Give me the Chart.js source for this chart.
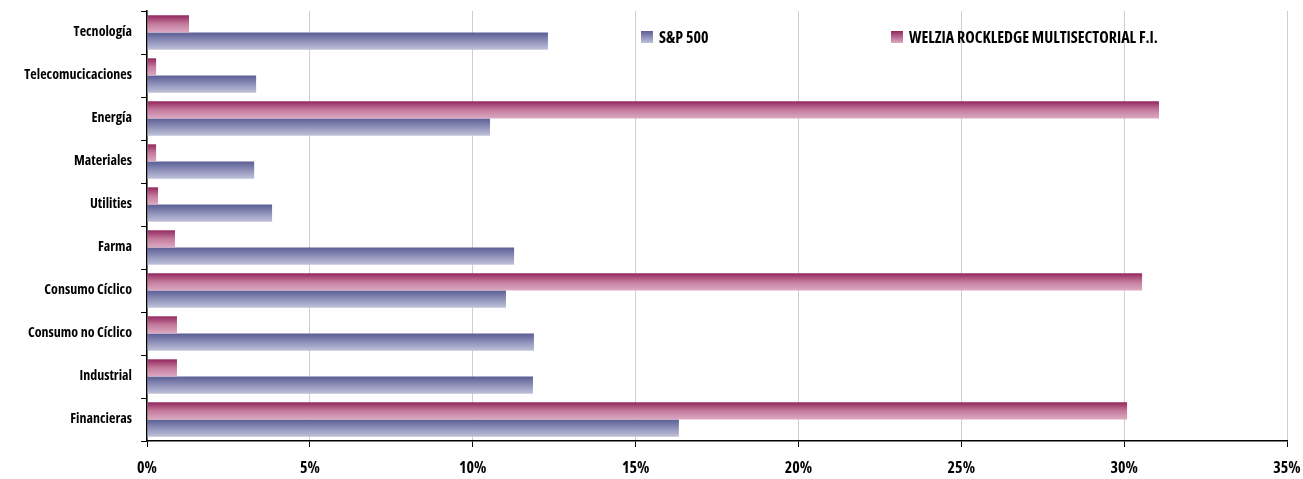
<!DOCTYPE html>
<html>
<head>
<meta charset="utf-8">
<script src="https://cdn.jsdelivr.net/npm/chart.js@4/dist/chart.umd.min.js"></script>
<style>
html,body{margin:0;padding:0;background:#fff;}
#wrap{width:1303px;height:479px;position:relative;}
</style>
</head>
<body>
<div id="wrap"><canvas id="c" width="1303" height="479"></canvas></div>
<script>
const categories = ["Tecnología","Telecomucicaciones","Energía","Materiales","Utilities","Farma","Consumo Cíclico","Consumo no Cíclico","Industrial","Financieras"];
const seriesNames = ["WELZIA ROCKLEDGE MULTISECTORIAL F.I.","S&P 500"];
const welziaValues = [1.29, 0.28, 31.07, 0.28, 0.34, 0.86, 30.55, 0.92, 0.92, 30.09];
const spValues = [12.31, 3.35, 10.53, 3.29, 3.84, 11.27, 11.02, 11.88, 11.85, 16.33];
const xTicks = [0, 5, 10, 15, 20, 25, 30, 35];

const FONT = "'Open Sans', sans-serif";
const palettes = [
  ["#93285e", "#c47b9d", "#dcaac2"],
  ["#5a5e94", "#8e90b9", "#c0c1d9"]
];

function gradFor(c) {
  const chart = c.chart;
  const pal = palettes[c.datasetIndex];
  const yS = chart.scales && chart.scales.y;
  if (!chart.chartArea || !yS || c.dataIndex === undefined) return pal[1];
  const center = yS.getPixelForValue(c.dataIndex);
  const band = (yS.height / categories.length) * 0.8;
  const top = center - band / 2 + c.datasetIndex * band / 2;
  const bottom = top + band / 2;
  const g = chart.ctx.createLinearGradient(0, top, 0, bottom);
  g.addColorStop(0, pal[0]);
  g.addColorStop(0.5, pal[1]);
  g.addColorStop(1, pal[2]);
  return g;
}

const legendPlugin = {
  id: 'customLegend',
  afterDraw(chart) {
    const ctx = chart.ctx;
    const items = [
      {label: seriesNames[1], pal: palettes[1], x: 641},
      {label: seriesNames[0], pal: palettes[0], x: 891}
    ];
    const y = 37;
    ctx.save();
    items.forEach(it => {
      const g = ctx.createLinearGradient(0, y - 6, 0, y + 6);
      g.addColorStop(0, it.pal[0]);
      g.addColorStop(1, it.pal[2]);
      ctx.fillStyle = g;
      ctx.fillRect(it.x, y - 6, 12, 12);
      ctx.fillStyle = '#000';
      ctx.font = "condensed bold 16px " + FONT;
      ctx.textBaseline = 'middle';
      ctx.textAlign = 'left';
      ctx.fillText(it.label, it.x + 18, y + 1);
    });
    ctx.restore();
  }
};

new Chart(document.getElementById('c'), {
  type: 'bar',
  data: {
    labels: categories,
    datasets: [
      {label: seriesNames[0], data: welziaValues, backgroundColor: gradFor, borderWidth: 0},
      {label: seriesNames[1], data: spValues, backgroundColor: gradFor, borderWidth: 0}
    ]
  },
  options: {
    indexAxis: 'y',
    responsive: false,
    animation: false,
    devicePixelRatio: 1,
    layout: {padding: {top: 11, right: 16, left: 0, bottom: 0}},
    datasets: {bar: {categoryPercentage: 0.8, barPercentage: 1.0}},
    plugins: {legend: {display: false}, tooltip: {enabled: false}},
    scales: {
      x: {
        min: 0, max: 35,
        afterBuildTicks(s) { s.ticks = xTicks.map(v => ({value: v})); },
        ticks: {
          callback: v => v + '%',
          color: '#000',
          font: {family: FONT, size: 16, weight: 'condensed bold'},
          padding: 12,
          maxRotation: 0
        },
        grid: {color: '#cfcfcf', lineWidth: 1, tickColor: '#000', tickLength: 6, drawTicks: true},
        border: {display: true, color: '#000', width: 1.5},
        afterFit(s) { s.height = 38; s.paddingLeft = 0; s.paddingRight = 0; }
      },
      y: {
        ticks: {
          color: '#000',
          font: {family: FONT, size: 14, weight: 'condensed bold'},
          padding: 9
        },
        grid: {drawOnChartArea: false, drawTicks: true, tickLength: 6, tickColor: '#000', offset: true},
        border: {display: true, color: '#000', width: 1.5},
        afterFit(s) { s.width = 147; s.paddingTop = 0; s.paddingBottom = 0; }
      }
    }
  },
  plugins: [legendPlugin]
});
</script>
</body>
</html>
